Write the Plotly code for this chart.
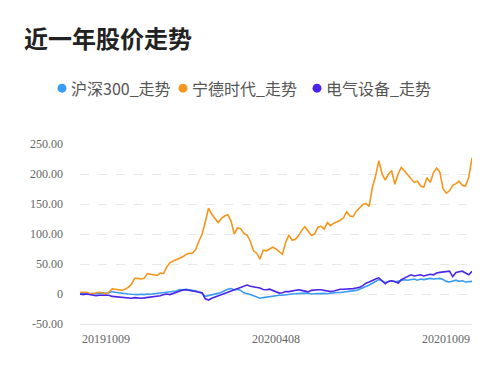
import plotly.graph_objects as go

title_text = "近一年股价走势"
series_names = ["沪深300_走势", "宁德时代_走势", "电气设备_走势"]
series_colors = ["#3a9cf0", "#f5961e", "#4a25e8"]
date_labels = ["20191009", "20200408", "20201009"]
y_tick_vals = [-50, 0, 50, 100, 150, 200, 250]
y_tick_text = ["-50.00", "0", "50.00", "100.00", "150.00", "200.00", "250.00"]

hs300 = [0, 1, 0.5, 0, 1, 0, 1, 0.5, 1, 2, 4, 3, 2, 1.5, 1, 0, -0.5, -1, -1, -0.5,
         -1, 0, -0.5, 0.5, 1, 1.5, 2.5, 3.5, 3, 4.5, 5, 7.5, 7, 8, 6.5, 6, 5.5, 3, 1, -4,
         -3, -1, -1, 1, 3, 6, 8, 9, 7, 8, 6, 2, 1, -1, -3, -5, -7, -6, -5, -4,
         -4, -3, -2, -2, -1, -0.5, 0, 0.5, 1, 1.5, 1.5, 1, 0, 0.5, 1, 1.5, 1, 0.5, 1.5, 2,
         2.5, 2.5, 3, 3.5, 4, 5, 6, 8, 10, 12, 15, 18, 21, 24, 22, 19, 21, 22, 20, 21,
         22, 24, 23, 24, 25, 23, 25, 24, 25, 26, 25, 26, 26, 24, 21, 20, 22, 23, 21, 22,
         20, 20, 21]

catl = [3, 3.5, 3, 1, 0, 2, 3, 2, 0, 3, 8.6, 8, 7, 6, 8, 11, 16, 26, 26, 25,
        26, 34, 33, 32, 31, 35, 34, 45, 52, 55, 57, 59, 62, 66, 68, 68, 74, 88, 100, 120,
        143, 133, 126, 119, 126, 130, 132, 122, 100, 110, 109, 101, 98, 88, 72, 68, 58, 73, 72, 75,
        78, 75, 70, 66, 86, 98, 90, 91, 97, 106, 112, 105, 98, 100, 111, 113, 108, 119, 114, 118,
        120, 123, 127, 137, 130, 129, 138, 144, 149, 151, 146, 178, 197, 222, 200, 190, 200, 205, 183, 200,
        211, 205, 199, 193, 186, 188, 180, 178, 194, 186, 202, 210, 203, 175, 168, 172, 181, 184, 188, 181,
        180, 195, 227]

elec = [0, -1, 0, -1, -2, -3, -2, -2, -2.5, -2, -4, -4.5, -5, -5, -6, -7, -7, -6, -7, -7,
        -6.5, -6, -5, -5, -4.5, -3, -1, 0, -1, 1, 3, 5, 6.5, 7, 6, 6, 5, 4, 2, -8,
        -10, -7, -5, -3, -1, 1.5, 4, 6, 7.5, 9, 12, 14, 15, 13, 12, 12, 10, 7.5, 7, 8,
        6, 3, 1.5, 2, 4, 4, 5, 7, 7, 6, 5, 3.5, 6, 7, 7, 7, 6, 5, 4, 5,
        7, 8, 8, 8, 9, 9, 10, 11, 14, 18, 20, 23, 25, 27, 22, 17, 21, 22, 21, 18,
        24, 27, 30, 32, 30, 31, 32, 30, 31, 33, 32, 35, 36, 37, 38, 38, 29, 36, 37, 38,
        35, 32, 38]

series_values = [hs300, catl, elec]
n = len(catl)
xs = list(range(n))

fig = go.Figure()
for name, vals, col in zip(series_names, series_values, series_colors):
    fig.add_trace(go.Scatter(x=xs, y=vals, mode="lines", name=name,
                             line=dict(color=col, width=1.6), showlegend=False))

tick_font = dict(family="Liberation Serif, DejaVu Serif, serif", size=12, color="#666666")
cjk = "Noto Sans CJK SC, Noto Sans, sans-serif"

PW, PH = 392, 180.5  # plot area in px

fig.update_layout(
    width=500, height=377,
    margin=dict(l=80, r=28, t=144, b=52.5),
    paper_bgcolor="white", plot_bgcolor="white",
    showlegend=False,
    xaxis=dict(range=[0, n - 1], showgrid=False, zeroline=False, showticklabels=False,
               showline=True, linecolor="#e6e6e6", linewidth=1, ticks=""),
    yaxis=dict(range=[-50, 250], tickvals=y_tick_vals, ticktext=y_tick_text,
               showgrid=True, gridcolor="#e8e8e8", griddash="dash", gridwidth=1,
               zeroline=False, showline=False, ticks="", tickfont=tick_font,
               ticklabelstandoff=16),
)

# Title
fig.add_annotation(text="<b>" + title_text + "</b>", xref="paper", yref="paper",
                   x=(22 - 80) / PW, y=1 + (144 - 37) / PH, xanchor="left", yanchor="middle",
                   showarrow=False, font=dict(family=cjk, size=24, color="#222222"))

# Legend (circle markers + labels)
legend_x = [62, 183, 317]
legend_y = 88
for name, col, lx in zip(series_names, series_colors, legend_x):
    px = (lx - 80) / PW
    py = 1 + (144 - legend_y) / PH
    rx = 4.5 / PW
    ry = 4.5 / PH
    fig.add_shape(type="circle", xref="paper", yref="paper",
                  x0=px - rx, x1=px + rx, y0=py - ry, y1=py + ry,
                  fillcolor=col, line=dict(width=0))
    fig.add_annotation(text=name, xref="paper", yref="paper",
                       x=(lx + 7 - 80) / PW, y=py, xanchor="left", yanchor="middle",
                       showarrow=False, font=dict(family=cjk, size=16, color="#555555"))

# Date labels under the x axis
label_pos = [0, (n - 1) / 2, n - 1]
anchors = ["left", "center", "right"]
for lab, xp, anc in zip(date_labels, label_pos, anchors):
    fig.add_annotation(text=lab, x=xp, xref="x", yref="paper", y=-(340 - 324.5) / PH,
                       xanchor=anc, yanchor="middle", showarrow=False, font=tick_font)

fig.write_html("out.html", config={"displayModeBar": False},
               post_script="document.body.style.margin='0';document.body.style.padding='0';")
